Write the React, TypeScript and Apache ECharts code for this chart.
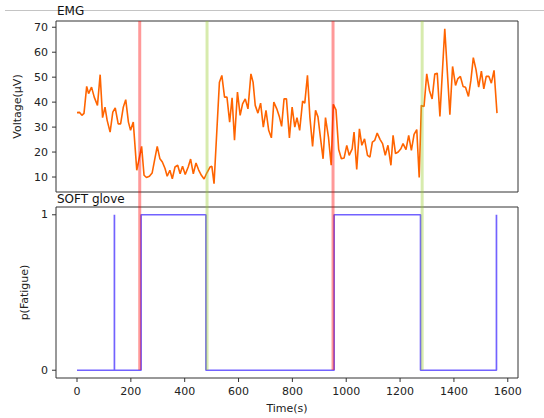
import React, { useEffect, useRef } from "react";
import * as echarts from "echarts";

// EMG trace: time (s) and voltage (µV)
const emgTime = [
  0, 9, 18, 26, 36, 43, 54, 64, 76, 86, 95, 104, 112, 123, 133, 142, 153, 162, 172, 181, 191, 199, 209,
  222, 232, 240, 249, 258, 269, 279, 288, 298, 308, 317, 327, 335, 345, 354, 364, 374, 383, 392, 402,
  413, 422, 432, 442, 452, 462, 472, 482, 494, 501, 509, 529, 538, 548, 557, 567, 576, 585, 596, 606,
  615, 625, 635, 646, 654, 662, 672, 682, 692, 702, 712, 722, 731, 742, 752, 760, 769, 778, 789, 799,
  809, 817, 827, 838, 846, 856, 865, 875, 886, 895, 904, 914, 923, 934, 944, 952, 962, 972, 982, 992,
  1002, 1011, 1022, 1029, 1039, 1049, 1058, 1068, 1079, 1088, 1097, 1106, 1115, 1126, 1135, 1145,
  1155, 1166, 1174, 1183, 1193, 1203, 1211, 1222, 1232, 1242, 1252, 1262, 1271, 1279, 1289, 1299,
  1309, 1319, 1329, 1338, 1348, 1366, 1385, 1395, 1406, 1414, 1424, 1434, 1443, 1454, 1463, 1472,
  1482, 1492, 1502, 1511, 1520, 1530, 1539, 1549, 1560,
];
const emgVoltage = [
  35.8, 35.9, 34.7, 35.5, 46.3, 43.4, 46, 42, 38.7, 51, 33.8, 38, 32.7, 28, 36, 37.7, 31.3, 31.3, 38,
  41, 32, 28.7, 32, 12.7, 18, 22.3, 10.7, 9.8, 10.3, 11.6, 16.7, 22.3, 17.3, 16, 13.4, 10.3, 12.7, 9.3,
  14, 14.7, 11.3, 14.3, 11, 14, 17.2, 11.3, 15.6, 12.8, 10.7, 9.2, 11.6, 14, 14.3, 7.3, 48, 50.7, 42,
  42, 32, 41.7, 24.7, 44, 34.7, 39.3, 41.3, 37.3, 51.3, 48, 38.7, 35.6, 39.6, 30, 36.7, 28.7, 25.7,
  40, 37.3, 34, 30.3, 41.3, 41.3, 25.7, 38, 30, 33.8, 28.7, 40.4, 39.6, 50.7, 34, 22.3, 36.7, 34.1,
  26, 17.3, 33.8, 26, 14.7, 39.1, 36.9, 21, 17.3, 17.6, 22.7, 18.7, 21.3, 28, 13, 29.3, 22.7, 25.3,
  18.7, 18, 24, 24.7, 27.6, 25, 23.4, 18.7, 22.7, 14.7, 26.7, 19.4, 20, 21.3, 23.4, 21, 26.7, 20.7,
  27.1, 29, 9.8, 38.7, 38.3, 51.3, 44.7, 41.3, 51.3, 51.6, 34.3, 69.4, 35, 54.3, 46.7, 49.3, 50.3,
  46.3, 46, 42.3, 48.7, 57.8, 53, 46, 52.4, 45.3, 50.3, 50.3, 47.6, 52.7, 35.6,
];

// SOFT glove fatigue prediction (step trace)
const fatigueTime = [0, 139, 139, 139, 238, 238, 479, 479, 955, 955, 1276, 1276, 1558, 1558];
const fatigueValue = [0, 0, 1, 0, 0, 1, 1, 0, 0, 1, 1, 0, 0, 1];

// event markers
const fatigueOnsets = [233, 951];
const recoveries = [483, 1282];

const xTicks = [0, 200, 400, 600, 800, 1000, 1200, 1400, 1600];
const emgTicks = [10, 20, 30, 40, 50, 60, 70];
const fatigueTicks = [0, 1];

const FONT = "DejaVu Sans";
const X_MIN = -78;
const X_MAX = 1638;
const EMG_MIN = 4;
const EMG_MAX = 72.5;
const P_MIN = -0.05;
const P_MAX = 1.05;

function tickSeries(
  values: number[],
  xAxisIndex: number,
  yAxisIndex: number,
  dir: "x" | "y",
  fixed: number
) {
  return {
    type: "custom",
    xAxisIndex,
    yAxisIndex,
    clip: false,
    silent: true,
    z: 10,
    data: values.map((v) => [v]),
    renderItem: (params: any, api: any) => {
      const v = api.value(0);
      const p = dir === "x" ? api.coord([v, fixed]) : api.coord([fixed, v]);
      const shape =
        dir === "x"
          ? { x1: p[0], y1: p[1], x2: p[0], y2: p[1] + 4 }
          : { x1: p[0], y1: p[1], x2: p[0] - 4, y2: p[1] };
      return { type: "line", shape, style: { stroke: "#333", lineWidth: 1 } };
    },
  };
}

export default function App() {
  const ref = useRef<HTMLDivElement>(null);
  useEffect(() => {
    if (!ref.current) return;
    document.body.style.margin = "0";
    const chart = echarts.init(ref.current, null, { renderer: "svg" });
    const labelStyle = { color: "#222", fontFamily: FONT, fontSize: 11 };
    const fmt = (v: number) => String(v);
    const emgData = emgTime.map((t, i) => [t, emgVoltage[i]]);
    const fatigueData = fatigueTime.map((t, i) => [t, fatigueValue[i]]);
    const eventSeries: any[] = [];
    fatigueOnsets.forEach((t) =>
      eventSeries.push({
        type: "line",
        xAxisIndex: 2,
        yAxisIndex: 2,
        data: [[t, 0], [t, 1]],
        symbol: "none",
        lineStyle: { color: "rgba(255,0,0,0.4)", width: 3 },
        z: 5,
      })
    );
    recoveries.forEach((t) =>
      eventSeries.push({
        type: "line",
        xAxisIndex: 2,
        yAxisIndex: 2,
        data: [[t, 0], [t, 1]],
        symbol: "none",
        lineStyle: { color: "rgba(154,205,50,0.4)", width: 3 },
        z: 5,
      })
    );
    chart.setOption({
      animation: false,
      backgroundColor: "#fff",
      textStyle: { fontFamily: FONT },
      grid: [
        { left: 56, right: 26, top: 21, height: 171, show: true, borderColor: "#333", borderWidth: 1 },
        { left: 56, right: 26, top: 207, height: 171, show: true, borderColor: "#333", borderWidth: 1 },
        { left: 56, right: 26, top: 21, bottom: 48, show: false },
      ],
      xAxis: [
        {
          type: "value", gridIndex: 0, min: X_MIN, max: X_MAX,
          axisLine: { show: false }, axisTick: { show: false }, axisLabel: { show: false }, splitLine: { show: false },
        },
        {
          type: "value", gridIndex: 1, min: X_MIN, max: X_MAX,
          axisLine: { show: false },
          axisTick: { show: false },
          axisLabel: { ...labelStyle, margin: 8, customValues: xTicks, formatter: fmt },
          splitLine: { show: false },
          name: "Time(s)", nameLocation: "middle", nameGap: 25,
          nameTextStyle: { ...labelStyle },
        },
        { type: "value", gridIndex: 2, min: X_MIN, max: X_MAX, show: false },
      ],
      yAxis: [
        {
          type: "value", gridIndex: 0, min: EMG_MIN, max: EMG_MAX,
          axisLine: { show: false },
          axisTick: { show: false },
          axisLabel: { ...labelStyle, margin: 8, customValues: emgTicks, formatter: fmt },
          splitLine: { show: false },
          name: "Voltage(μV)", nameLocation: "middle", nameGap: 26, nameRotate: 90,
          nameTextStyle: { ...labelStyle },
        },
        {
          type: "value", gridIndex: 1, min: P_MIN, max: P_MAX,
          axisLine: { show: false },
          axisTick: { show: false },
          axisLabel: { ...labelStyle, margin: 8, customValues: fatigueTicks, formatter: fmt },
          splitLine: { show: false },
          name: "p(Fatigue)", nameLocation: "middle", nameGap: 19, nameRotate: 90,
          nameTextStyle: { ...labelStyle },
        },
        { type: "value", gridIndex: 2, min: 0, max: 1, show: false },
      ],
      graphic: [
        { type: "line", shape: { x1: 5, y1: 10.5, x2: 544, y2: 10.5 }, style: { stroke: "#c4c4c4", lineWidth: 1 } },
        { type: "text", left: 57, top: 5, style: { text: "EMG", fill: "#111", font: `12px "${FONT}"` } },
        { type: "text", left: 57, top: 193, style: { text: "SOFT glove", fill: "#111", font: `12px "${FONT}"` } },
      ],
      series: [
        {
          type: "line", xAxisIndex: 0, yAxisIndex: 0, data: emgData, symbol: "none",
          lineStyle: { color: "#ff6400", width: 1.6 }, z: 3,
        },
        {
          type: "line", xAxisIndex: 1, yAxisIndex: 1, data: fatigueData, symbol: "none",
          lineStyle: { color: "#7262ff", width: 1.7 }, z: 3,
        },
        ...eventSeries,
        tickSeries(xTicks, 1, 1, "x", P_MIN),
        tickSeries(emgTicks, 0, 0, "y", X_MIN),
        tickSeries(fatigueTicks, 1, 1, "y", X_MIN),
      ],
    });
    return () => chart.dispose();
  }, []);
  return <div ref={ref} style={{ width: 544, height: 418 }} />;
}
